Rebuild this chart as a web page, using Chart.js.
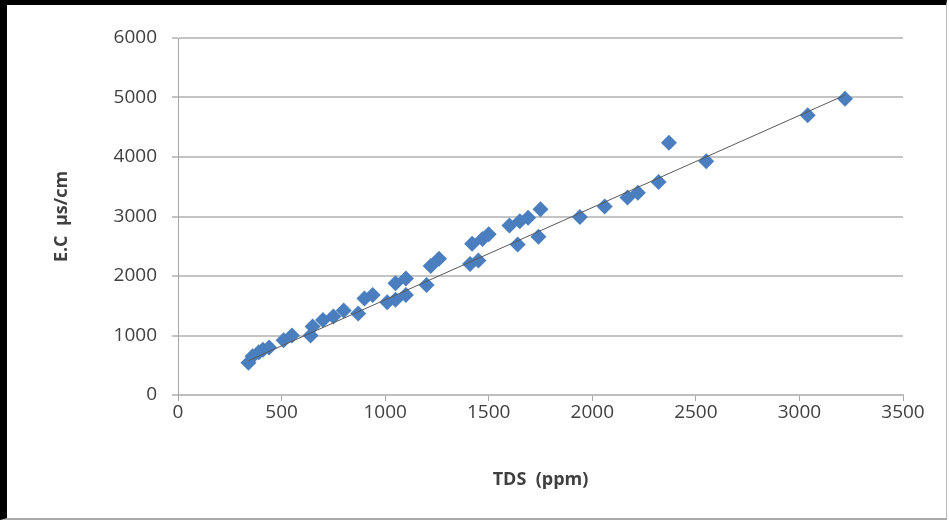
<!DOCTYPE html>
<html>
<head>
<meta charset="utf-8">
<script src="https://cdn.jsdelivr.net/npm/chart.js@4"></script>
<style>
  html, body { margin: 0; padding: 0; background: #fff; }
  #wrap { position: relative; width: 949px; height: 520px; }
  #frame {
    position: absolute; left: 0; top: 0; width: 939px; height: 513px;
    border-top: 5px solid #000; border-left: 7px solid #000;
    border-right: 1px solid #bbb; border-bottom: 2px solid #aaa;
    pointer-events: none;
  }
</style>
</head>
<body>
<div id="wrap">
  <canvas id="myChart" width="949" height="520"></canvas>
  <div id="frame"></div>
</div>
<script>
    // Data
    var tdsValues = [340, 360, 390, 410, 440, 510, 550, 640, 650, 700, 750, 800, 870, 900, 940,
        1010, 1050, 1050, 1100, 1100, 1200, 1220, 1260, 1410, 1420, 1450, 1470, 1500, 1600,
        1650, 1640, 1690, 1740, 1750, 1940, 2060, 2170, 2220, 2320, 2370, 2550, 3040, 3220];
    var ecValues = [540, 650, 720, 760, 800, 920, 1000, 1000, 1150, 1260, 1320, 1420, 1370, 1620, 1680,
        1560, 1600, 1880, 1680, 1960, 1850, 2170, 2290, 2200, 2540, 2260, 2620, 2700, 2850,
        2920, 2530, 2980, 2660, 3120, 2990, 3170, 3320, 3400, 3580, 4240, 3930, 4700, 4980];

    // Trendline end points
    var trendTds = [340, 3220];
    var trendEc = [577, 5040];

    var xTicks = [0, 500, 1000, 1500, 2000, 2500, 3000, 3500];
    var yTicks = [0, 1000, 2000, 3000, 4000, 5000, 6000];

    var points = [];
    for (var i = 0; i < tdsValues.length; i++) {
        points.push({ x: tdsValues[i], y: ecValues[i] });
    }
    var trendPoints = [];
    for (var i = 0; i < trendTds.length; i++) {
        trendPoints.push({ x: trendTds[i], y: trendEc[i] });
    }

    var tickFont = { family: "'Open Sans', sans-serif", size: 19 };
    var titleFont = { family: "'Open Sans', sans-serif", size: 18, weight: 'bold' };
    function plainLabel(value) { return String(value); }

    const ctx = document.getElementById('myChart');
    new Chart(ctx, {
        type: 'scatter',
        data: {
            datasets: [{
                data: trendPoints,
                type: 'line',
                borderColor: '#595959',
                borderWidth: 1,
                pointRadius: 0,
                fill: false,
                order: 0
            }, {
                data: points,
                pointStyle: 'rectRot',
                pointRadius: 8,
                backgroundColor: '#4a7ebf',
                borderColor: '#4a7ebf',
                borderWidth: 0,
                order: 1
            }]
        },
        options: {
            responsive: false,
            animation: false,
            layout: { padding: { left: 0, top: 38, right: 46, bottom: 0 } },
            plugins: {
                legend: { display: false },
                tooltip: { enabled: false }
            },
            scales: {
                x: {
                    type: 'linear',
                    min: 0,
                    max: 3500,
                    afterBuildTicks: function (scale) {
                        scale.ticks = xTicks.map(function (v) { return { value: v }; });
                    },
                    afterFit: function (scale) { scale.height = 125; },
                    grid: { drawOnChartArea: false, drawTicks: true, tickLength: 6, color: '#a6a6a6', lineWidth: 1 },
                    border: { color: '#bfbfbf', width: 2 },
                    ticks: { color: '#404040', font: tickFont, padding: 0, maxRotation: 0, callback: plainLabel },
                    title: { display: true, text: 'TDS  (ppm)', color: '#404040', font: titleFont, padding: { top: 0, bottom: 29 } }
                },
                y: {
                    type: 'linear',
                    min: 0,
                    max: 6000,
                    afterBuildTicks: function (scale) {
                        scale.ticks = yTicks.map(function (v) { return { value: v }; });
                    },
                    afterFit: function (scale) { scale.width = 178; },
                    grid: { drawOnChartArea: true, drawTicks: true, tickLength: 6, color: '#c4c4c4', lineWidth: 2 },
                    border: { color: '#a6a6a6', width: 1 },
                    ticks: { color: '#404040', font: tickFont, padding: 15, callback: plainLabel },
                    title: { display: true, text: 'E.C  µs/cm', color: '#404040', font: titleFont, padding: { top: 51, bottom: 0 } }
                }
            }
        }
    });
</script>
</body>
</html>
